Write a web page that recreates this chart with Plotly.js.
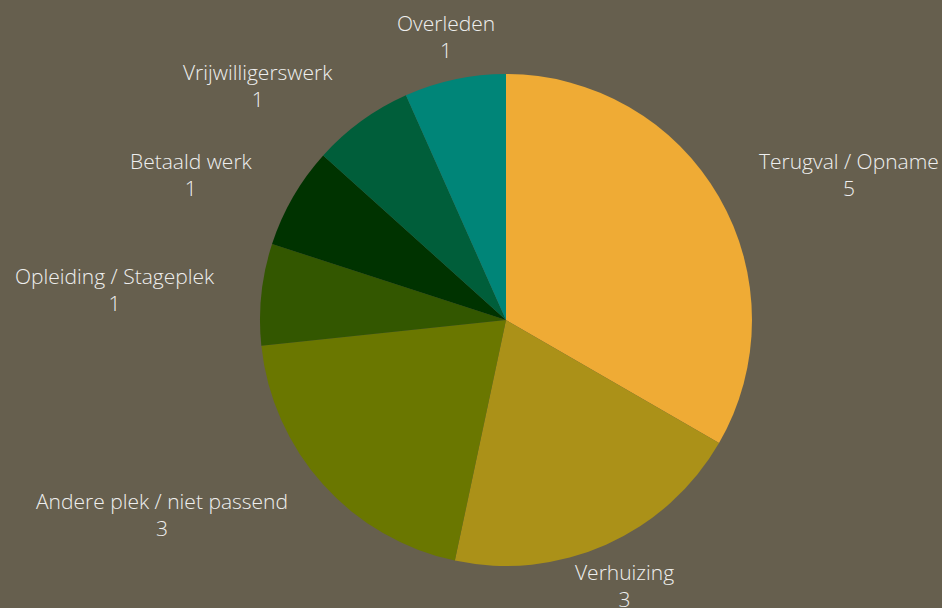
<!DOCTYPE html>
<html>
<head>
<meta charset="utf-8">
<script src="https://cdn.plot.ly/plotly-3.0.1.min.js"></script>
<style>html,body{margin:0;padding:0;background:#665f4e;}</style>
</head>
<body>
<div id="chart" style="width:942px;height:608px;"></div>
<script>
var categories = ["Terugval / Opname", "Verhuizing", "Andere plek / niet passend", "Opleiding / Stageplek", "Betaald werk", "Vrijwilligerswerk", "Overleden"];
var values = [5, 3, 3, 1, 1, 1, 1];
var colors = ["#efab35", "#ab9118", "#6a7700", "#335700", "#003300", "#005e3a", "#008578"];

var W = 942, H = 608;
var M = {l: 106, r: 36, t: 74, b: 42};
var pw = W - M.l - M.r, ph = H - M.t - M.b;
var R = Math.min(pw, ph) / 2;
var labelR = R * 1.18;

var total = values.reduce(function (a, b) { return a + b; }, 0);
var annotations = [];
var cum = 0;
for (var i = 0; i < values.length; i++) {
  var mid = (cum + values[i] / 2) / total * 2 * Math.PI;
  cum += values[i];
  var sx = Math.sin(mid), cy = Math.cos(mid);
  var px = sx * labelR, py = cy * labelR;
  var anchor = Math.abs(sx) < 0.5 ? "center" : (sx > 0 ? "left" : "right");
  annotations.push({
    xref: "paper", yref: "paper",
    x: 0.5 + px / pw, y: 0.5 + py / ph,
    xanchor: anchor, yanchor: "middle", align: "center",
    showarrow: false,
    text: categories[i] + "<br>" + values[i],
    font: {family: "Open Sans", size: 21, color: "#efefef", weight: 300}
  });
}

Plotly.newPlot("chart", [{
  type: "pie",
  labels: categories,
  values: values,
  sort: false,
  direction: "clockwise",
  rotation: 0,
  marker: {colors: colors, line: {width: 0}},
  textinfo: "none",
  automargin: false,
  showlegend: false,
  hoverinfo: "none"
}], {
  width: W,
  height: H,
  paper_bgcolor: "#665f4e",
  plot_bgcolor: "#665f4e",
  margin: M,
  font: {family: "Open Sans", weight: 300, color: "#efefef"},
  annotations: annotations
}, {displayModeBar: false, staticPlot: true});
</script>
</body>
</html>
